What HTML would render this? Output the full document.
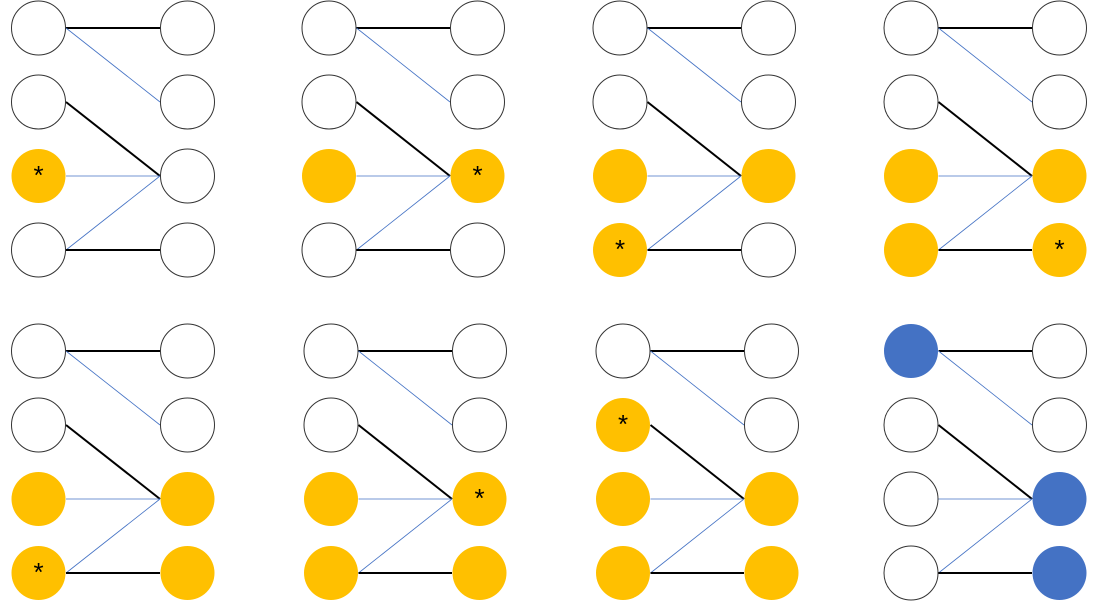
<!DOCTYPE html>
<html><head><meta charset="utf-8"><style>body{margin:0;background:#fff}svg{display:block}</style></head>
<body>
<svg width="1096" height="612" xmlns="http://www.w3.org/2000/svg" font-family="Liberation Sans, sans-serif">
<defs>
<g id="edges">
</g>
</defs>
<script>/* none */</script>
<g id="all"></g>
<!-- panels generated statically below -->
<g stroke-linecap="butt">
<!-- Panel template: left cx=a, right cx=b, rows y0..y3 -->
</g>
<g id="p"></g>
<foreignObject width="0" height="0"></foreignObject>
<g>
<!-- P1 -->
<g transform="translate(0,0)">
<line x1="66" y1="27" x2="160" y2="27" stroke="#000" stroke-width="2"/>
<line x1="66" y1="28" x2="160" y2="101" stroke="#4472c4" stroke-width="0.8"/>
<line x1="66" y1="101" x2="159" y2="175" stroke="#000" stroke-width="2"/>
<line x1="66" y1="176" x2="159" y2="176" stroke="#4472c4" stroke-width="0.8"/>
<line x1="66" y1="249" x2="159" y2="176" stroke="#4472c4" stroke-width="0.8"/>
<line x1="66" y1="249" x2="160" y2="249" stroke="#000" stroke-width="2"/>
</g>
</g>
<g id="circ"></g>
</svg>
<script>
var ns="http://www.w3.org/2000/svg",svg=document.querySelector('svg');
function el(t,a,p){var e=document.createElementNS(ns,t);for(var k in a)e.setAttribute(k,a[k]);(p||svg).appendChild(e);return e}
svg.querySelector('g[transform]').parentNode.remove();
var Y=[0,324],rows=[28,102,176,250];
var panels=[
 [38.5,187.5,0,{l:[0,0,"y*",0],r:[0,0,0,0]}],
 [329,477.5,0,{l:[0,0,"y",0],r:[0,0,"y*",0]}],
 [620,768.5,0,{l:[0,0,"y","y*"],r:[0,0,"y",0]}],
 [911,1059.5,0,{l:[0,0,"y","y"],r:[0,0,"y","y*"]}],
 [38.5,187.5,1,{l:[0,0,"y","y*"],r:[0,0,"y","y"]}],
 [331,479.5,1,{l:[0,0,"y","y"],r:[0,0,"y*","y"]}],
 [623,771.5,1,{l:[0,"y*","y","y"],r:[0,0,"y","y"]}],
 [911,1059.5,1,{l:["b",0,0,0],r:[0,0,"b","b"]}]
];
panels.forEach(function(p){
 var a=p[0],b=p[1],dy=Y[p[2]]-(p[2]?1:0),r=27.5,y=rows.map(function(v){return v+dy});
 var K="#000",B="#4472c4";
 [[0,0,K,2],[0,1,B,.8],[1,2,K,2],[2,2,B,.8],[3,2,B,.8],[3,3,K,2]].forEach(function(e){
  el('line',{x1:a+r,y1:y[e[0]],x2:b-r,y2:y[e[1]],stroke:e[2],'stroke-width':e[3]});
 });
 ['l','r'].forEach(function(s){
  p[3][s].forEach(function(c,i){
   var cx=s=='l'?a:b,f=c?(c[0]=='b'?'#4472c4':'#ffc000'):'#fff';
   el('circle',{cx:cx,cy:y[i],r:c?27:27,fill:f,stroke:c?'none':'#333','stroke-width':1});
   if(c&&c.indexOf('*')>=0){var t=el('text',{x:cx,y:y[i]+8,'text-anchor':'middle','font-size':26,fill:'#000'});t.textContent='*';}
  });
 });
});
</script>
</body></html>
